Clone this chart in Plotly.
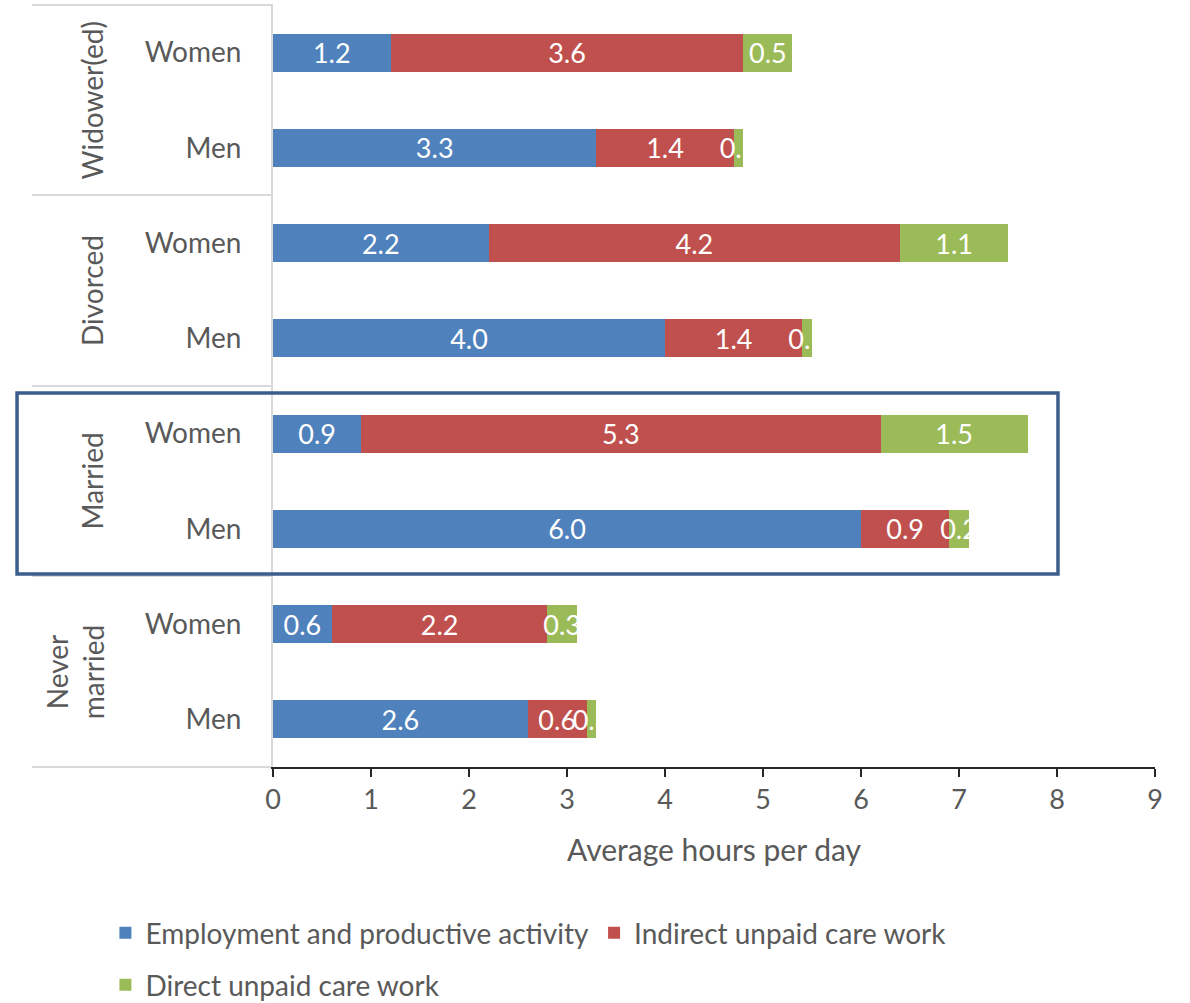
import plotly.graph_objects as go

# Rows from top to bottom: marital status x sex
row_labels = ["Women", "Men", "Women", "Men", "Women", "Men", "Women", "Men"]
group_labels = ["Widower(ed)", "Divorced", "Married", "Never<br>married"]

employment = [1.2, 3.3, 2.2, 4.0, 0.9, 6.0, 0.6, 2.6]
indirect_care = [3.6, 1.4, 4.2, 1.4, 5.3, 0.9, 2.2, 0.6]
direct_care = [0.5, 0.1, 1.1, 0.1, 1.5, 0.2, 0.3, 0.1]

series = [
    ("Employment and productive activity", employment, "#4F81BD", "legend"),
    ("Indirect unpaid care work", indirect_care, "#C0504D", "legend"),
    ("Direct unpaid care work", direct_care, "#9BBB59", "legend2"),
]

FONT = "Lato"
GREY = "#595959"
rows = list(range(len(row_labels)))

fig = go.Figure()
for name, vals, color, leg in series:
    fig.add_trace(go.Bar(
        y=rows, x=vals, name=name, orientation="h", legend=leg,
        marker=dict(color=color, line=dict(width=0)),
        width=0.4,
        text=[f"{v:.1f}" for v in vals],
        textposition="inside", insidetextanchor="middle",
        textangle=0, constraintext="none",
        textfont=dict(family=FONT, size=27, color="white"),
    ))

shapes = []
# group separators on the left of the category axis
for yp in [1.0, 0.7507, 0.5, 0.2507, 0.0]:
    shapes.append(dict(type="line", xref="paper", yref="paper",
                       x0=-0.2732, x1=0, y0=yp, y1=yp,
                       line=dict(color="#D9D9D9", width=2), layer="below"))
# box around the married group
shapes.append(dict(type="rect", xref="paper", yref="paper",
                   x0=-0.2902, x1=0.890, y0=0.2533, y1=0.4908,
                   line=dict(color="#3B5E8C", width=3.5)))

annotations = []
group_centers = [0.875, 0.625, 0.375, 0.125]
group_x = [-0.205, -0.205, -0.205, -0.225]
for g, yc, xc in zip(group_labels, group_centers, group_x):
    annotations.append(dict(
        text=g, xref="paper", yref="paper", x=xc, y=yc,
        showarrow=False, textangle=-90, xanchor="center", yanchor="middle",
        font=dict(family=FONT, size=28, color=GREY),
    ))

legend_style = dict(orientation="h", xanchor="left", yanchor="middle",
                    font=dict(family=FONT, size=28, color=GREY),
                    itemwidth=30, bgcolor="rgba(0,0,0,0)", traceorder="normal")

fig.update_layout(
    width=1190, height=1003,
    margin=dict(l=273, r=35, t=5, b=236, autoexpand=False),
    paper_bgcolor="white", plot_bgcolor="white",
    barmode="stack", bargap=0.6,
    font=dict(family=FONT, size=28, color=GREY),
    showlegend=True,
    legend=dict(x=-0.19, y=(767 - 933) / 762, **legend_style),
    legend2=dict(x=-0.19, y=(767 - 985) / 762, **legend_style),
    shapes=shapes, annotations=annotations,
    xaxis=dict(range=[0, 9], dtick=1, tick0=0, showgrid=False, zeroline=False,
               showline=True, linecolor="#262626", linewidth=2,
               ticks="outside", ticklen=8, tickwidth=2, tickcolor="#262626",
               automargin=False,
               tickfont=dict(family=FONT, size=27, color=GREY),
               title=dict(text="Average hours per day", standoff=26,
                          font=dict(family=FONT, size=30, color=GREY))),
    yaxis=dict(range=[7.5, -0.5], tickmode="array", tickvals=rows, ticktext=row_labels,
               showgrid=False, zeroline=False, showline=True,
               linecolor="#D9D9D9", linewidth=2, ticks="",
               automargin=False, ticklabelstandoff=24,
               tickfont=dict(family=FONT, size=28, color=GREY)),
)

fig.write_html("out.html")
